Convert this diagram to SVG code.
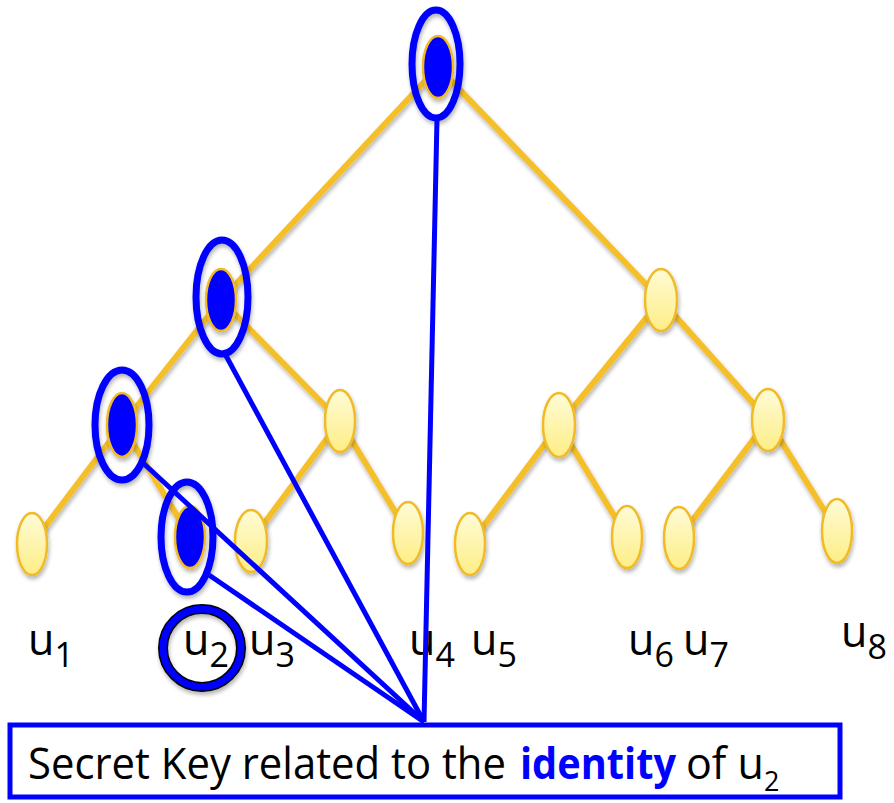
<svg xmlns="http://www.w3.org/2000/svg" width="894" height="803" viewBox="0 0 894 803">
  <defs>
    <linearGradient id="leafFill" x1="0" y1="0" x2="0" y2="1">
      <stop offset="0" stop-color="#FFFBD6"/>
      <stop offset="1" stop-color="#FDEE86"/>
    </linearGradient>
    <filter id="shadow" x="-20%" y="-20%" width="140%" height="140%">
      <feGaussianBlur in="SourceAlpha" stdDeviation="2"/>
      <feOffset dx="1" dy="3" result="off"/>
      <feComponentTransfer><feFuncA type="linear" slope="0.3"/></feComponentTransfer>
      <feMerge><feMergeNode/><feMergeNode in="SourceGraphic"/></feMerge>
    </filter>
    <style>
      .edge { stroke: #F5BF2C; stroke-width: 6; fill: none; }
      .node { stroke: #F2BA26; stroke-width: 2.5; fill: url(#leafFill); }
      .node.sel { fill: #0000FF; }
      .ring { stroke: #0000FF; stroke-width: 7; fill: none; }
      .link { stroke: #0000FF; stroke-width: 5; fill: none; }
      .lbl { font-family: "Open Sans", "Liberation Sans", sans-serif; font-size: 43px; fill: #000; }
      .sub { font-size: 34px; }
      .hl { fill: #0000FF; font-weight: bold; }
    </style>
  </defs>
  <rect width="894" height="803" fill="#fff"/>

  <!-- tree edges -->
  <g id="edges" filter="url(#shadow)">
    <line class="edge" x1="438" y1="67" x2="221" y2="300"/>
    <line class="edge" x1="438" y1="67" x2="661" y2="300"/>
    <line class="edge" x1="221" y1="300" x2="122" y2="425"/>
    <line class="edge" x1="221" y1="300" x2="340" y2="421"/>
    <line class="edge" x1="661" y1="300" x2="559" y2="425"/>
    <line class="edge" x1="661" y1="300" x2="768" y2="420"/>
    <line class="edge" x1="122" y1="425" x2="32" y2="544"/>
    <line class="edge" x1="122" y1="425" x2="190" y2="537"/>
    <line class="edge" x1="340" y1="421" x2="251" y2="541"/>
    <line class="edge" x1="340" y1="421" x2="408" y2="533"/>
    <line class="edge" x1="559" y1="425" x2="470" y2="544"/>
    <line class="edge" x1="559" y1="425" x2="627" y2="537"/>
    <line class="edge" x1="768" y1="420" x2="679" y2="538"/>
    <line class="edge" x1="768" y1="420" x2="837" y2="531"/>
  </g>

  <!-- tree nodes -->
  <g filter="url(#shadow)">
    <g id="root"><ellipse class="node sel" cx="438" cy="67" rx="15" ry="31"/></g>
    <g id="n-left"><ellipse class="node sel" cx="221" cy="300" rx="15" ry="31"/></g>
    <g id="n-right"><ellipse class="node" cx="661" cy="300" rx="16" ry="31"/></g>
    <g id="n-ll"><ellipse class="node sel" cx="122" cy="425" rx="15" ry="32"/></g>
    <g id="n-lr"><ellipse class="node" cx="340" cy="421" rx="15" ry="31"/></g>
    <g id="n-rl"><ellipse class="node" cx="559" cy="425" rx="16" ry="32"/></g>
    <g id="n-rr"><ellipse class="node" cx="768" cy="420" rx="16" ry="31"/></g>
    <g id="leaf-u1"><ellipse class="node" cx="32" cy="544" rx="15" ry="31"/></g>
    <g id="leaf-u2"><ellipse class="node sel" cx="190" cy="537" rx="15" ry="31"/></g>
    <g id="leaf-u3"><ellipse class="node" cx="251" cy="541" rx="16" ry="31"/></g>
    <g id="leaf-u4"><ellipse class="node" cx="408" cy="533" rx="15" ry="31"/></g>
    <g id="leaf-u5"><ellipse class="node" cx="470" cy="544" rx="15" ry="31"/></g>
    <g id="leaf-u6"><ellipse class="node" cx="627" cy="537" rx="15" ry="31"/></g>
    <g id="leaf-u7"><ellipse class="node" cx="679" cy="538" rx="15" ry="31"/></g>
    <g id="leaf-u8"><ellipse class="node" cx="837" cy="531" rx="15" ry="32"/></g>
  </g>

  <!-- path rings -->
  <g id="rings" filter="url(#shadow)">
    <ellipse class="ring" cx="436" cy="64" rx="24" ry="54"/>
    <ellipse class="ring" cx="222" cy="297" rx="26" ry="57"/>
    <ellipse class="ring" cx="122" cy="425" rx="27" ry="55"/>
    <ellipse class="ring" cx="187" cy="537" rx="26" ry="55"/>
  </g>

  <!-- leaf labels -->
  <g id="labels">
    <text class="lbl" x="28" y="655">u<tspan class="sub" dy="12">1</tspan></text>
    <text class="lbl" x="183" y="655">u<tspan class="sub" dy="12">2</tspan></text>
    <text class="lbl" x="249" y="655">u<tspan class="sub" dy="12">3</tspan></text>
    <text class="lbl" x="409" y="655">u<tspan class="sub" dy="12">4</tspan></text>
    <text class="lbl" x="471" y="655">u<tspan class="sub" dy="12">5</tspan></text>
    <text class="lbl" x="628" y="655">u<tspan class="sub" dy="12">6</tspan></text>
    <text class="lbl" x="683" y="655">u<tspan class="sub" dy="12">7</tspan></text>
    <text class="lbl" x="841" y="647">u<tspan class="sub" dy="12">8</tspan></text>
  </g>

  <!-- highlight around u2 -->
  <g id="u2-mark" filter="url(#shadow)">
    <circle cx="202" cy="648" r="39" fill="none" stroke="#000" stroke-width="10"/>
    <circle cx="202" cy="648" r="39" fill="none" stroke="#0000FF" stroke-width="7"/>
  </g>

  <!-- connectors from the key box to the path nodes -->
  <g id="connectors">
    <line class="link" x1="424" y1="722" x2="437" y2="119"/>
    <line class="link" x1="424" y1="722" x2="224" y2="352"/>
    <line class="link" x1="424" y1="722" x2="142" y2="462"/>
    <line class="link" x1="424" y1="722" x2="209" y2="575"/>
  </g>

  <!-- secret key box -->
  <g id="key-box">
    <rect x="10" y="725" width="830" height="72" fill="#fff" stroke="#0000FF" stroke-width="5"/>
    <text class="lbl" x="28" y="779" textLength="478" lengthAdjust="spacingAndGlyphs">Secret Key related to the</text>
    <text class="lbl hl" x="520" y="779" textLength="156" lengthAdjust="spacingAndGlyphs">identity</text>
    <text class="lbl" x="686" y="779">of u<tspan font-size="27" dy="12">2</tspan></text>
  </g>
</svg>
